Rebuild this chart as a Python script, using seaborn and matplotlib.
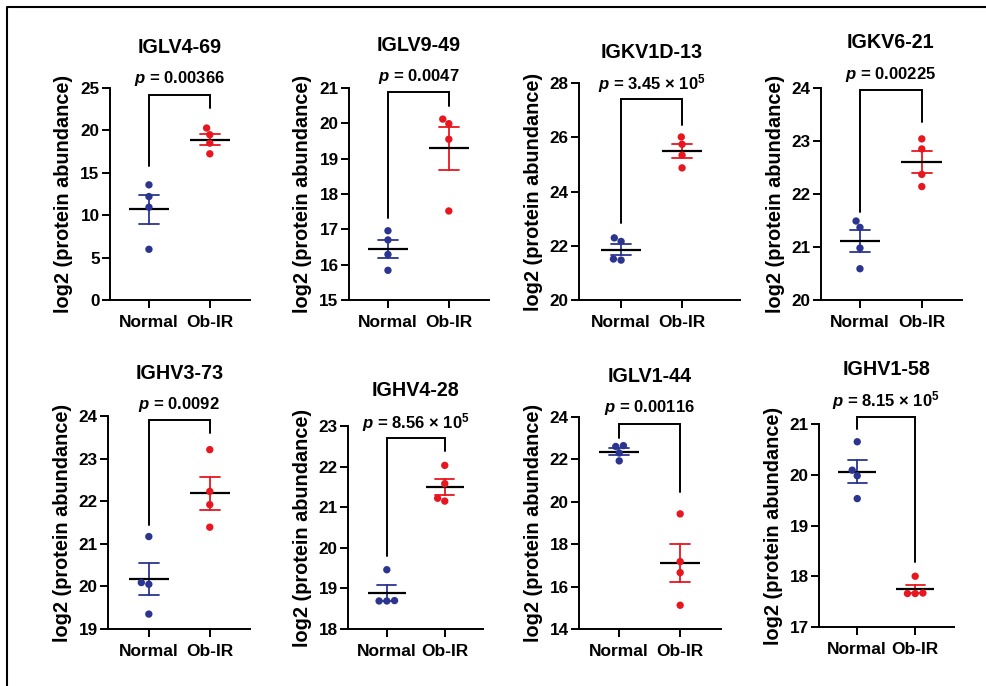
import numpy as np
import pandas as pd
import matplotlib.pyplot as plt
import seaborn as sns
from matplotlib.lines import Line2D

# protein names and t-test labels, row by row
genes = ['IGLV4-69', 'IGLV9-49', 'IGKV1D-13', 'IGKV6-21',
         'IGHV3-73', 'IGHV4-28', 'IGLV1-44', 'IGHV1-58']
p_labels = ['$p$ = 0.00366', '$p$ = 0.0047', '$p$ = 3.45 \u00d7 10$^{5}$', '$p$ = 0.00225',
            '$p$ = 0.0092', '$p$ = 8.56 \u00d7 10$^{5}$', '$p$ = 0.00116', '$p$ = 8.15 \u00d7 10$^{5}$']
groups = ['Normal', 'Ob-IR']

# log2 abundances (4 samples per group)
normal_values = [
    [13.58, 12.20, 10.94, 5.98],
    [16.96, 16.70, 16.29, 15.84],
    [22.29, 22.16, 21.51, 21.47],
    [21.49, 21.37, 20.98, 20.59],
    [21.17, 20.09, 20.05, 19.35],
    [19.46, 18.69, 18.70, 18.69],
    [22.65, 22.61, 22.30, 21.93],
    [20.65, 20.09, 19.98, 19.53],
]
obir_values = [
    [20.28, 19.49, 18.50, 17.24],
    [19.99, 20.12, 19.55, 17.52],
    [26.01, 25.74, 25.34, 24.87],
    [23.04, 22.85, 22.37, 22.14],
    [23.21, 22.23, 21.92, 21.39],
    [22.03, 21.58, 21.15, 21.22],
    [19.43, 17.18, 16.66, 15.12],
    [18.00, 17.66, 17.67, 17.66],
]
y_limits = [(0, 25), (15, 21), (20, 28), (20, 24), (19, 24), (18, 23), (14, 24), (17, 21)]
y_steps = [5, 1, 2, 1, 1, 1, 2, 1]

# significance brackets: (top, left end, right end) in data units
brackets = [(24.2, 15.75, 22.6), (20.88, 17.32, 20.5), (27.4, 22.85, 26.44), (23.96, 21.66, 23.35),
            (23.9, 21.45, 23.6), (22.7, 19.81, 22.38), (23.69, 23.0, 20.44), (21.14, 20.91, 18.29)]

# layout: axes boxes in pixels (left, top, right, bottom) and x limits
W, H = 987, 686
panel_boxes = [(110, 88, 250, 300), (349, 88, 489, 300), (579, 83, 740, 300), (821, 88, 962, 300),
               (108, 416, 250, 629), (348, 426, 483, 629), (579, 417, 721, 629), (819, 424, 954, 627)]
x_limits = [(-0.64, 1.66), (-0.64, 1.66), (-0.69, 1.95), (-0.63, 1.65),
            (-0.67, 1.66), (-0.67, 1.66), (-0.66, 1.67), (-0.66, 1.67)]

palette = {'Normal': '#2B3590', 'Ob-IR': '#E8161F'}

sns.set_theme(style='ticks')
plt.rcParams['font.family'] = ['Liberation Sans', 'DejaVu Sans']
plt.rcParams['font.weight'] = 'bold'
plt.rcParams['axes.labelweight'] = 'bold'
plt.rcParams['text.color'] = 'black'
plt.rcParams['axes.labelcolor'] = 'black'
plt.rcParams['mathtext.fontset'] = 'custom'
plt.rcParams['mathtext.it'] = 'Liberation Sans:italic:bold'
plt.rcParams['mathtext.rm'] = 'Liberation Sans:bold'
plt.rcParams['mathtext.bf'] = 'Liberation Sans:bold'

fig = plt.figure(figsize=(W / 100, H / 100), dpi=100)

for i, gene in enumerate(genes):
    l, t, r, b = panel_boxes[i]
    ax = fig.add_axes([l / W, 1 - b / H, (r - l) / W, (b - t) / H])

    df = pd.DataFrame({
        'group': [groups[0]] * len(normal_values[i]) + [groups[1]] * len(obir_values[i]),
        'value': normal_values[i] + obir_values[i],
    })

    # mean +/- SEM
    sns.pointplot(data=df, x='group', y='value', hue='group', palette=palette,
                  errorbar='se', capsize=0.33, linestyle='none', markersize=0,
                  err_kws={'linewidth': 1.3}, legend=False, ax=ax)
    means = df.groupby('group', sort=False)['value'].mean()
    xpos = np.arange(len(means))
    ax.hlines(means.values, xpos - 0.33, xpos + 0.33, color='black', lw=1.6, zorder=3)

    # individual samples
    sns.swarmplot(data=df, x='group', y='value', hue='group', palette=palette,
                  size=5.3, legend=False, ax=ax, zorder=4)

    ax.set_xlim(*x_limits[i])
    lo, hi = y_limits[i]
    ax.set_ylim(lo, hi)
    ax.set_yticks(np.arange(lo, hi + 0.01, y_steps[i]))
    ax.set_xlabel('')
    ax.set_ylabel('log2 (protein abundance)', fontsize=14.3, labelpad=5)
    ax.tick_params(axis='both', width=1.4, length=5.5, color='black', labelcolor='black')
    ax.tick_params(axis='y', labelsize=12.3, pad=2)
    ax.tick_params(axis='x', labelsize=12.5, pad=5.5)
    sns.despine(ax=ax)
    for side in ['left', 'bottom']:
        ax.spines[side].set_linewidth(1.4)
        ax.spines[side].set_color('black')

    top, left_end, right_end = brackets[i]
    ax.plot([0, 0, 1, 1], [left_end, top, top, right_end], color='black', lw=1.4,
            clip_on=False, solid_joinstyle='miter')
    ax.annotate(p_labels[i], xy=(0.5, top), xytext=(0, 11.5), textcoords='offset points',
                ha='center', va='center', fontsize=12, fontweight='bold', annotation_clip=False)
    ax.annotate(gene, xy=(0.5, top), xytext=(0, 34), textcoords='offset points',
                ha='center', va='center', fontsize=14.2, fontweight='bold', annotation_clip=False)

# frame of the original figure (left and top edges)
fig.add_artist(Line2D([7 / W, 7 / W, 1], [0, 1 - 7 / H, 1 - 7 / H],
                      transform=fig.transFigure, color='black', lw=1.5))

fig.savefig('out.png', dpi=100)
